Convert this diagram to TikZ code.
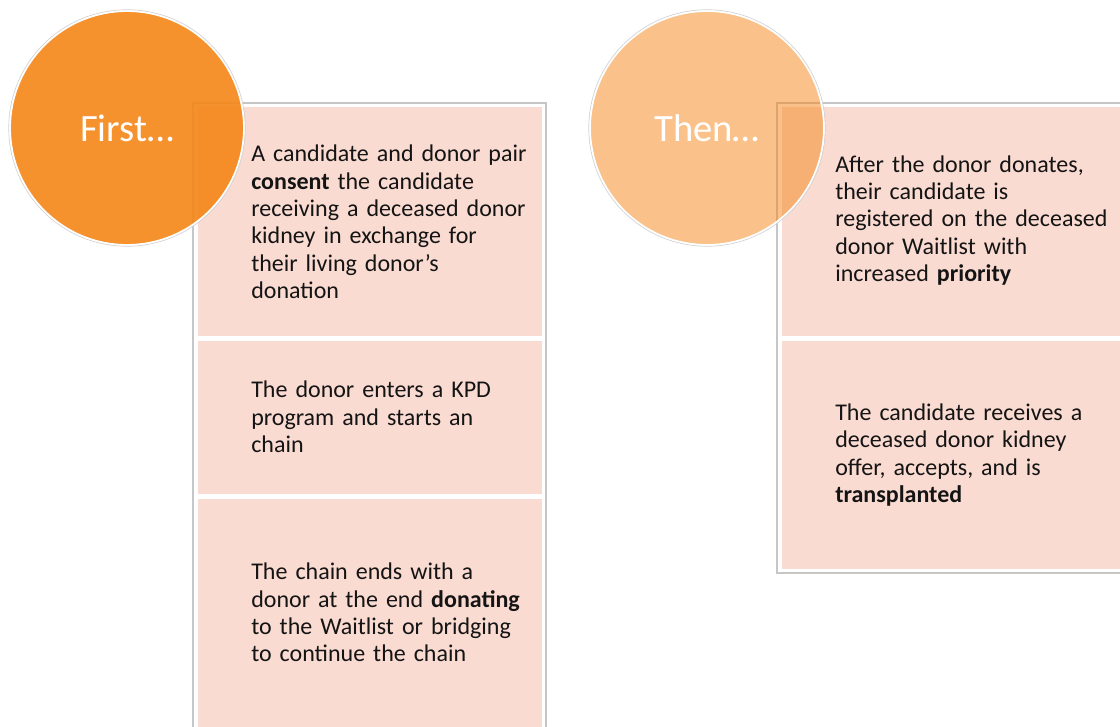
\documentclass[tikz,border=0pt]{standalone}
\usepackage{fontspec}
\setmainfont{Carlito}
\usetikzlibrary{positioning}

\definecolor{stepOrange}{RGB}{245,135,25}
\definecolor{cellPink}{RGB}{250,219,210}
\definecolor{frameGray}{RGB}{198,198,198}
\definecolor{bodyText}{RGB}{20,20,20}

\begin{document}
\begin{tikzpicture}[x=0.75pt, y=-0.75pt,
  frame/.style={draw=frameGray, line width=1.1pt, fill=white},
  cell/.style={fill=cellPink, draw=white, line width=1.6pt},
  badge/.style={circle, minimum size=175.5pt, inner sep=0pt, draw=white,
    line width=1.4pt, fill=stepOrange, text=white, text opacity=1,
    font=\fontsize{29}{34}\selectfont},
  desc/.style={anchor=west, align=left, inner sep=0pt, text width=240pt,
    text=bodyText, font=\fontsize{18}{20.6}\selectfont}]
  \useasboundingbox (0,0) rectangle (1120,727);

  % Left column
  \draw[frame] (193,103) rectangle (546,735);
  \filldraw[cell] (196.5,106) rectangle (543,337.5);
  \filldraw[cell] (196.5,339.5) rectangle (543,495.5);
  \filldraw[cell] (196.5,497.5) rectangle (543,731);

  % Right column
  \draw[frame] (777,103) rectangle (1125,573);
  \filldraw[cell] (780.5,106) rectangle (1122,337.5);
  \filldraw[cell] (780.5,339.5) rectangle (1122,570);

  % Circles
  \node[badge, fill opacity=0.91] (first) at (127,128) {First…};
  \node[badge, fill opacity=0.51] (then) at (707,128) {Then…};
  \draw[gray!35, line width=0.5pt] (first.center) circle (88.7pt);
  \draw[gray!35, line width=0.5pt] (then.center) circle (88.7pt);

  % Step texts
  \node[desc] (consent) at (251,222) {A candidate and donor pair\\
    \textbf{consent} the candidate\\ receiving a deceased donor\\
    kidney in exchange for\\ their living donor’s\\ donation};
  \node[desc] (enter) at (251,417) {The donor enters a KPD\\
    program and starts an\\ chain};
  \node[desc] (ends) at (251,612.5) {The chain ends with a\\
    donor at the end \textbf{donating}\\ to the Waitlist or bridging\\
    to continue the chain};
  \node[desc] (register) at (835,220.5) {After the donor donates,\\
    their candidate is\\ registered on the deceased\\
    donor Waitlist with\\ increased \textbf{priority}};
  \node[desc] (receive) at (835,455) {The candidate receives a\\
    deceased donor kidney\\ offer, accepts, and is\\ \textbf{transplanted}};
\end{tikzpicture}
\end{document}
